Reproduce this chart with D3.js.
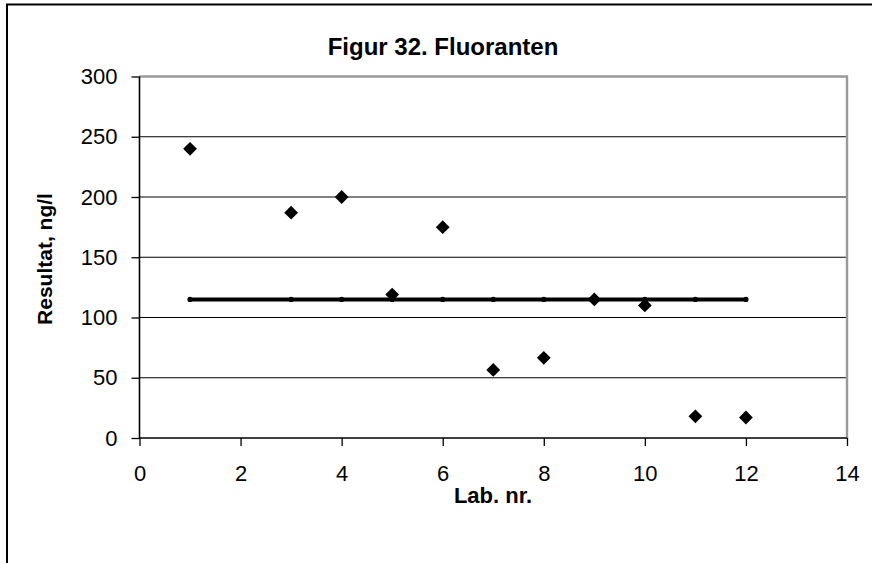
<!DOCTYPE html>
<html>
<head>
<meta charset="utf-8">
<script src="https://cdn.jsdelivr.net/npm/d3@7"></script>
<style>
  html, body { margin: 0; padding: 0; background: #fff; }
  svg { display: block; font-family: Arial, "Liberation Sans", sans-serif; }
</style>
</head>
<body>
<svg id="chart" width="872" height="563"></svg>
<script>
// Lab results for fluoranthene (ng/l)
const labs    = [1, 3, 4, 5, 6, 7, 8, 9, 10, 11, 12];
const results = [240, 187, 200, 119, 175, 56.5, 66.5, 115, 110, 18, 17];
// Assigned value drawn as a horizontal reference line
const refValue = 115;
const xTicks = [0, 2, 4, 6, 8, 10, 12, 14];
const yTicks = [0, 50, 100, 150, 200, 250, 300];

const title = "Figur 32. Fluoranten";
const xTitle = "Lab. nr.";
const yTitle = "Resultat, ng/l";

const svg = d3.select("#chart");
const W = 872, H = 563;
const plot = { left: 139.5, right: 847, top: 76.5, bottom: 438 };
const FONT = "Arial, 'Liberation Sans', sans-serif";

// Outer chart frame (runs off the right and bottom edges)
svg.append("rect")
  .attr("x", 7).attr("y", 4.5)
  .attr("width", W + 20).attr("height", H + 20)
  .attr("fill", "#fff").attr("stroke", "#000").attr("stroke-width", 2);

const x = d3.scaleLinear().domain([0, 14]).range([plot.left, plot.right]);
const y = d3.scaleLinear().domain([0, 300]).range([plot.bottom, plot.top]);

// Horizontal gridlines
svg.append("g")
  .selectAll("line")
  .data(yTicks.filter(v => v > 0 && v < 300))
  .join("line")
  .attr("x1", plot.left).attr("x2", plot.right)
  .attr("y1", d => y(d)).attr("y2", d => y(d))
  .attr("stroke", "#000").attr("stroke-width", 1);

// Plot area border (top and right in grey)
svg.append("path")
  .attr("d", `M${plot.left},${plot.top}H${plot.right}V${plot.bottom}`)
  .attr("fill", "none").attr("stroke", "#999").attr("stroke-width", 2.4);

// Axes
const yAxis = d3.axisLeft(y).tickValues(yTicks).tickSize(8).tickPadding(14);
const xAxis = d3.axisBottom(x).tickValues(xTicks).tickSize(8).tickPadding(19);

const gy = svg.append("g").attr("transform", `translate(${plot.left},0)`).call(yAxis);
const gx = svg.append("g").attr("transform", `translate(0,${plot.bottom})`).call(xAxis);

[gx, gy].forEach(g => {
  g.select(".domain").attr("stroke", "#000").attr("stroke-width", 1.6);
  g.selectAll(".tick line").attr("stroke", "#000").attr("stroke-width", 1.3);
  g.selectAll(".tick text")
    .attr("fill", "#000")
    .style("font-family", FONT)
    .style("font-size", "22px");
});
gx.select(".domain").attr("d", `M${plot.left},0H${plot.right}`);
gy.select(".domain").attr("d", `M0,${plot.bottom}V${plot.top}`);

// Reference line with small point markers
const refPts = labs.map(l => ({ lab: l, v: refValue }));
svg.append("path")
  .datum(refPts)
  .attr("d", d3.line().x(d => x(d.lab)).y(d => y(d.v)))
  .attr("fill", "none").attr("stroke", "#000").attr("stroke-width", 4);
svg.append("g")
  .selectAll("circle")
  .data(refPts)
  .join("circle")
  .attr("cx", d => x(d.lab)).attr("cy", d => y(d.v))
  .attr("r", 2.6).attr("fill", "#000");

// Result markers (diamonds)
const diamond = d3.symbol().type(d3.symbolSquare).size(95);
svg.append("g")
  .selectAll("path")
  .data(labs.map((l, i) => ({ lab: l, v: results[i] })))
  .join("path")
  .attr("d", diamond)
  .attr("transform", d => `translate(${x(d.lab)},${y(d.v)}) rotate(45)`)
  .attr("fill", "#000");

// Titles
svg.append("text")
  .attr("x", 443).attr("y", 55)
  .attr("text-anchor", "middle")
  .style("font-family", FONT)
  .style("font-size", "24px").style("font-weight", "bold")
  .text(title);

svg.append("text")
  .attr("x", 493).attr("y", 503)
  .attr("text-anchor", "middle")
  .style("font-family", FONT)
  .style("font-size", "22px").style("font-weight", "bold")
  .text(xTitle);

svg.append("text")
  .attr("transform", "translate(52,259) rotate(-90)")
  .attr("text-anchor", "middle")
  .style("font-family", FONT)
  .style("font-size", "21px").style("font-weight", "bold")
  .text(yTitle);
</script>
</body>
</html>
